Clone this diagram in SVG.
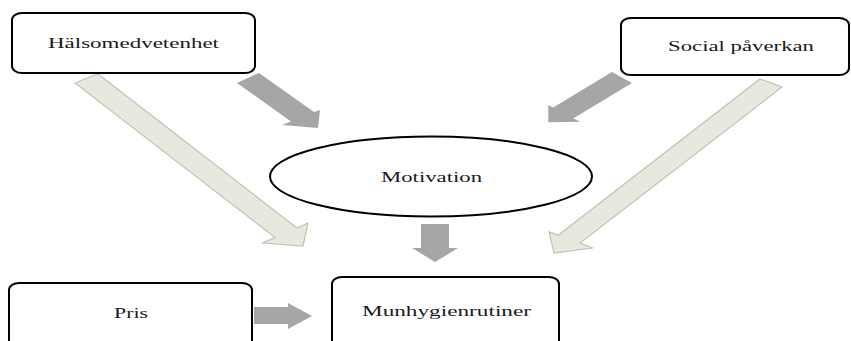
<svg xmlns="http://www.w3.org/2000/svg" width="851" height="341" viewBox="0 0 851 341">
<style>
.box{fill:#fff;stroke:#000;stroke-width:2}
.lbl{font-family:"Liberation Serif","Times New Roman",serif;font-size:15px;fill:#1a1a1a}
.light{fill:#e8e8de;stroke:#c2c2b2;stroke-width:1.2}
.dark{fill:#a6a6a6;stroke:none}
</style>
<rect width="851" height="341" fill="#fff"/>
<g id="connectors">
<polygon class="light" points="75,83 98,74 297,228 308,223 303,246 262,243 275,237.5"/>
<polygon class="light" points="760,79 782,87 580,243 593,248 554,253 549,232 558.5,235"/>
<polygon class="dark" points="237,83 259,73 314,112 320,110 318,128 282,125 291,121.4"/>
<polygon class="dark" points="612,72 632,83 573.6,118.3 580,121.7 548.3,122.3 548.3,105 553.2,107.6"/>
<polygon class="dark" points="421,224 449,224 449,248 458,248 435,262 412,248 421,248"/>
<polygon class="dark" points="254,307 288,307 288,303 312,316 288,329 288,324 254,324"/>
</g>
<g id="halsomedvetenhet">
<rect class="box" x="12" y="13" width="243" height="60" rx="10" ry="7"/>
<text class="lbl" x="48" y="48" textLength="171" lengthAdjust="spacingAndGlyphs">Hälsomedvetenhet</text>
</g>
<g id="social">
<rect class="box" x="621" y="18" width="228" height="57" rx="10" ry="7"/>
<text class="lbl" x="668" y="51" textLength="146" lengthAdjust="spacingAndGlyphs">Social påverkan</text>
</g>
<g id="motivation">
<ellipse class="box" cx="431" cy="176.5" rx="161" ry="40"/>
<text class="lbl" x="381" y="182" textLength="101" lengthAdjust="spacingAndGlyphs">Motivation</text>
</g>
<g id="pris">
<rect class="box" x="9" y="283" width="243" height="75" rx="10" ry="7"/>
<text class="lbl" x="114" y="318" textLength="34" lengthAdjust="spacingAndGlyphs">Pris</text>
</g>
<g id="munhygienrutiner">
<rect class="box" x="332" y="277" width="227" height="80" rx="10" ry="7"/>
<text class="lbl" x="362" y="316" textLength="169" lengthAdjust="spacingAndGlyphs">Munhygienrutiner</text>
</g>
</svg>
